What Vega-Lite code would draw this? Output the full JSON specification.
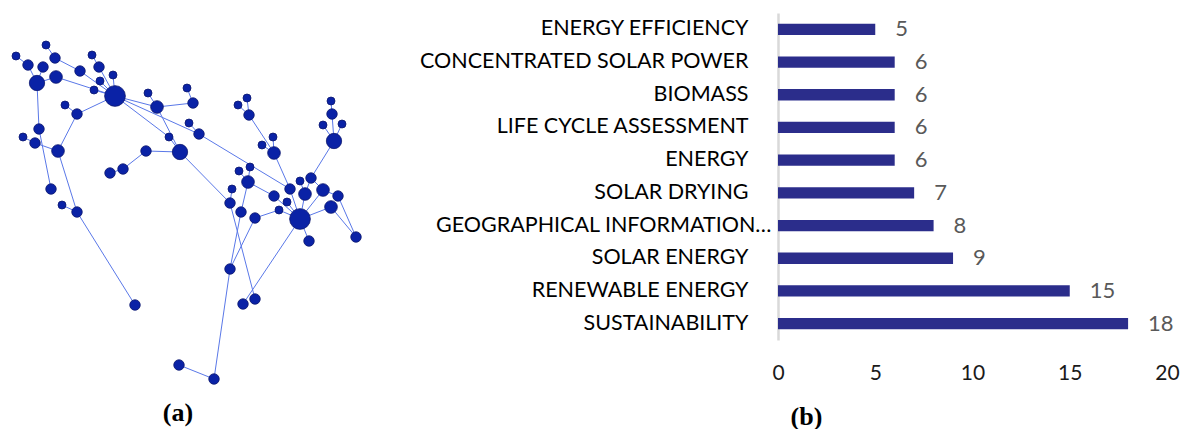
{
 "$schema": "https://vega.github.io/schema/vega-lite/v6.json",
 "background": "white",
 "padding": {"top": 13, "left": 0, "right": 0, "bottom": 0},
 "bounds": "flush",
 "spacing": 378,
 "config": {"view": {"stroke": null}},
 "datasets": {
  "nodes": [
   {"id":"n1","x":115,"y":96,"w":5},{"id":"n2","x":46,"y":45,"w":1},{"id":"n3","x":16,"y":56,"w":1},
   {"id":"n4","x":55,"y":58,"w":2},{"id":"n5","x":28,"y":65,"w":2},{"id":"n6","x":43,"y":67,"w":2},
   {"id":"n7","x":92,"y":55,"w":1},{"id":"n8","x":99,"y":67,"w":2},{"id":"n9","x":113,"y":75,"w":1},
   {"id":"n10","x":56,"y":77,"w":3},{"id":"n11","x":37,"y":83,"w":4},{"id":"n12","x":80,"y":71,"w":2},
   {"id":"n13","x":100,"y":81,"w":1},{"id":"n14","x":94,"y":90,"w":1},{"id":"n15","x":65,"y":105,"w":1},
   {"id":"n16","x":77,"y":114,"w":2},{"id":"n17","x":148,"y":93,"w":1},{"id":"n18","x":157,"y":107,"w":3},
   {"id":"n19","x":187,"y":88,"w":1},{"id":"n20","x":193,"y":103,"w":2},{"id":"n21","x":189,"y":123,"w":1},
   {"id":"n22","x":199,"y":134,"w":2},{"id":"n23","x":169,"y":137,"w":1},{"id":"n24","x":180,"y":152,"w":4},
   {"id":"n25","x":146,"y":151,"w":2},{"id":"n26","x":123,"y":169,"w":2},{"id":"n27","x":110,"y":173,"w":2},
   {"id":"n28","x":39,"y":129,"w":2},{"id":"n29","x":23,"y":137,"w":1},{"id":"n30","x":35,"y":143,"w":2},
   {"id":"n31","x":58,"y":151,"w":3},{"id":"n32","x":51,"y":189,"w":2},{"id":"n33","x":62,"y":205,"w":1},
   {"id":"n34","x":77,"y":212,"w":2},{"id":"n35","x":135,"y":305,"w":2},{"id":"n36","x":247,"y":98,"w":1},
   {"id":"n37","x":238,"y":105,"w":1},{"id":"n38","x":249,"y":115,"w":2},{"id":"n39","x":273,"y":137,"w":1},
   {"id":"n40","x":262,"y":145,"w":1},{"id":"n41","x":274,"y":153,"w":3},{"id":"n42","x":331,"y":101,"w":1},
   {"id":"n43","x":332,"y":114,"w":2},{"id":"n44","x":323,"y":125,"w":1},{"id":"n45","x":342,"y":124,"w":1},
   {"id":"n46","x":334,"y":141,"w":4},{"id":"n47","x":250,"y":167,"w":1},{"id":"n48","x":239,"y":171,"w":1},
   {"id":"n49","x":248,"y":182,"w":3},{"id":"n50","x":232,"y":189,"w":1},{"id":"n51","x":230,"y":203,"w":2},
   {"id":"n52","x":241,"y":212,"w":2},{"id":"n53","x":255,"y":218,"w":2},{"id":"n54","x":274,"y":196,"w":2},
   {"id":"n55","x":290,"y":189,"w":2},{"id":"n56","x":300,"y":181,"w":1},{"id":"n57","x":311,"y":178,"w":2},
   {"id":"n58","x":305,"y":194,"w":3},{"id":"n59","x":287,"y":202,"w":1},{"id":"n60","x":279,"y":210,"w":1},
   {"id":"n61","x":300,"y":219,"w":5},{"id":"n62","x":309,"y":241,"w":2},{"id":"n63","x":323,"y":190,"w":3},
   {"id":"n64","x":338,"y":196,"w":2},{"id":"n65","x":331,"y":207,"w":3},{"id":"n66","x":356,"y":237,"w":2},
   {"id":"n67","x":230,"y":269,"w":2},{"id":"n68","x":243,"y":304,"w":2},{"id":"n69","x":255,"y":299,"w":2},
   {"id":"n70","x":179,"y":365,"w":2},{"id":"n71","x":214,"y":379,"w":2}
  ],
  "edges": [
   {"s":"n2","t":"n4"},{"s":"n3","t":"n5"},{"s":"n5","t":"n11"},{"s":"n6","t":"n11"},{"s":"n4","t":"n12"},
   {"s":"n12","t":"n1"},{"s":"n10","t":"n11"},{"s":"n10","t":"n1"},{"s":"n14","t":"n1"},{"s":"n7","t":"n8"},
   {"s":"n8","t":"n1"},{"s":"n9","t":"n1"},{"s":"n13","t":"n1"},{"s":"n15","t":"n16"},{"s":"n16","t":"n1"},
   {"s":"n1","t":"n18"},{"s":"n17","t":"n18"},{"s":"n18","t":"n20"},{"s":"n19","t":"n20"},{"s":"n1","t":"n22"},
   {"s":"n21","t":"n22"},{"s":"n1","t":"n23"},{"s":"n23","t":"n24"},{"s":"n18","t":"n24"},{"s":"n25","t":"n24"},
   {"s":"n26","t":"n25"},{"s":"n27","t":"n26"},{"s":"n11","t":"n28"},{"s":"n28","t":"n32"},{"s":"n29","t":"n30"},
   {"s":"n30","t":"n31"},{"s":"n31","t":"n16"},{"s":"n31","t":"n34"},{"s":"n33","t":"n34"},{"s":"n34","t":"n35"},
   {"s":"n22","t":"n55"},{"s":"n24","t":"n51"},{"s":"n36","t":"n38"},{"s":"n37","t":"n38"},{"s":"n38","t":"n41"},
   {"s":"n39","t":"n41"},{"s":"n40","t":"n41"},{"s":"n41","t":"n55"},{"s":"n42","t":"n43"},{"s":"n43","t":"n46"},
   {"s":"n44","t":"n46"},{"s":"n45","t":"n46"},{"s":"n46","t":"n57"},{"s":"n47","t":"n49"},{"s":"n48","t":"n49"},
   {"s":"n49","t":"n54"},{"s":"n50","t":"n51"},{"s":"n49","t":"n52"},{"s":"n52","t":"n67"},{"s":"n53","t":"n67"},
   {"s":"n51","t":"n69"},{"s":"n67","t":"n71"},{"s":"n70","t":"n71"},{"s":"n61","t":"n68"},{"s":"n54","t":"n61"},
   {"s":"n55","t":"n61"},{"s":"n56","t":"n58"},{"s":"n57","t":"n58"},{"s":"n58","t":"n61"},{"s":"n59","t":"n61"},
   {"s":"n60","t":"n61"},{"s":"n53","t":"n60"},{"s":"n61","t":"n62"},{"s":"n63","t":"n61"},{"s":"n65","t":"n61"},
   {"s":"n64","t":"n66"},{"s":"n65","t":"n66"},{"s":"n57","t":"n63"},{"s":"n63","t":"n64"}
  ],
  "bars": [
   {"k":"ENERGY EFFICIENCY","v":5},
   {"k":"CONCENTRATED SOLAR POWER","v":6},
   {"k":"BIOMASS","v":6},
   {"k":"LIFE CYCLE ASSESSMENT","v":6},
   {"k":"ENERGY","v":6},
   {"k":"SOLAR DRYING","v":7},
   {"k":"GEOGRAPHICAL INFORMATION…","v":8},
   {"k":"SOLAR ENERGY","v":9},
   {"k":"RENEWABLE ENERGY","v":15},
   {"k":"SUSTAINABILITY","v":18}
  ]
 },
 "hconcat": [
  {
   "width": 400,
   "height": 415,
   "layer": [
    {
     "data": {"name": "edges"},
     "transform": [
      {"lookup": "s", "from": {"data": {"name": "nodes"}, "key": "id", "fields": ["x", "y"]}, "as": ["x1", "y1"]},
      {"lookup": "t", "from": {"data": {"name": "nodes"}, "key": "id", "fields": ["x", "y"]}, "as": ["x2", "y2"]}
     ],
     "mark": {"type": "rule", "color": "#5a78e8", "strokeWidth": 1},
     "encoding": {
      "x": {"field": "x1", "type": "quantitative", "scale": {"domain": [0, 400], "nice": false, "zero": false}, "axis": null},
      "y": {"field": "y1", "type": "quantitative", "scale": {"domain": [13, 428], "nice": false, "zero": false, "reverse": true}, "axis": null},
      "x2": {"field": "x2"},
      "y2": {"field": "y2"}
     }
    },
    {
     "data": {"name": "nodes"},
     "mark": {"type": "point", "shape": "circle", "filled": true, "fill": "#0a22a6", "stroke": "#0b176e", "strokeWidth": 0.8, "opacity": 1},
     "encoding": {
      "x": {"field": "x", "type": "quantitative", "scale": {"domain": [0, 400], "nice": false, "zero": false}, "axis": null},
      "y": {"field": "y", "type": "quantitative", "scale": {"domain": [13, 428], "nice": false, "zero": false, "reverse": true}, "axis": null},
      "size": {"field": "w", "type": "quantitative", "scale": {"type": "threshold", "domain": [1.5, 2.5, 3.5, 4.5], "range": [64, 110, 160, 235, 430]}, "legend": null},
      "order": {"field": "w", "type": "quantitative"}
     }
    },
    {
     "data": {"values": [{}]},
     "mark": {"type": "text", "text": "(a)", "font": "Liberation Serif", "fontSize": 26, "fontWeight": "bold", "color": "#000000", "baseline": "middle", "align": "center"},
     "encoding": {
      "x": {"datum": 178, "type": "quantitative"},
      "y": {"datum": 413, "type": "quantitative"}
     }
    }
   ]
  },
  {
   "width": 389,
   "height": 327,
   "data": {"name": "bars"},
   "encoding": {
    "y": {
     "field": "k", "type": "nominal",
     "sort": ["ENERGY EFFICIENCY","CONCENTRATED SOLAR POWER","BIOMASS","LIFE CYCLE ASSESSMENT","ENERGY","SOLAR DRYING","GEOGRAPHICAL INFORMATION…","SOLAR ENERGY","RENEWABLE ENERGY","SUSTAINABILITY"],
     "scale": {"paddingInner": 0.654, "paddingOuter": 0.327},
     "axis": {
      "title": null, "domainColor": "#d9d9d9", "domainWidth": 2.5, "ticks": false,
      "labelFont": "Lato", "labelFontSize": 21.5, "labelColor": "#000000", "labelLimit": 0,
      "labelPadding": {"condition": {"test": "datum.value == 'GEOGRAPHICAL INFORMATION…'", "value": 7}, "value": 30}
     }
    },
    "x": {
     "field": "v", "type": "quantitative",
     "scale": {"domain": [0, 20], "nice": false},
     "axis": {
      "title": "(b)", "values": [0, 5, 10, 15, 20], "domain": false, "ticks": false, "grid": false,
      "labelFont": "Lato", "labelFontSize": 21, "labelColor": "#1a1a1a", "labelPadding": 22, "labelFlush": false,
      "titleFont": "Liberation Serif", "titleFontSize": 26, "titleFontWeight": "bold", "titleColor": "#000000",
      "titleX": 28, "titleY": 76, "titleAlign": "center", "titleBaseline": "middle", "titleAnchor": null
     }
    }
   },
   "layer": [
    {"mark": {"type": "bar", "color": "#2b2d8b"}},
    {"mark": {"type": "text", "align": "left", "baseline": "middle", "dx": 20, "font": "Lato", "fontSize": 22, "color": "#595959"},
     "encoding": {"text": {"field": "v", "type": "quantitative"}}}
   ]
  }
 ]
}
